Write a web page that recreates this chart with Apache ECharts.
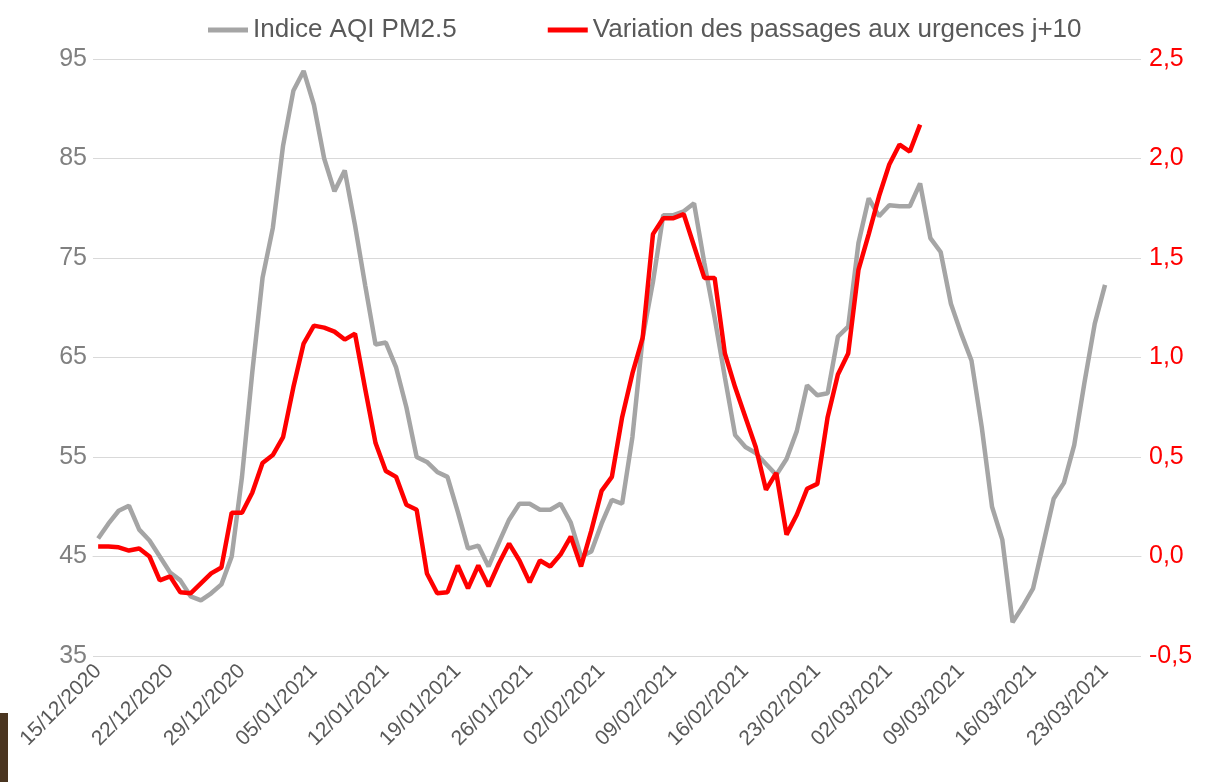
<!DOCTYPE html>
<html>
<head>
<meta charset="utf-8">
<script src="https://cdn.jsdelivr.net/npm/echarts@6/dist/echarts.min.js"></script>
<style>
  html, body { margin: 0; padding: 0; background: #ffffff; }
  #chart { width: 1219px; height: 782px; }
</style>
</head>
<body>
<div id="chart"></div>
<script>
// daily axis, 15/12/2020 -> 26/03/2021
var startDate = new Date(2020, 11, 15);
var dayCount = 102;

// Indice AQI PM2.5 (left axis), from 15/12/2020
var aqi = [
  46.8, 48.3, 49.6, 50.1, 47.7, 46.6, 45.0, 43.4, 42.6, 41.0,
  40.6, 41.3, 42.2, 45.0, 53.0, 63.5, 73.0, 78.0, 86.3, 91.8,
  93.8, 90.4, 85.0, 81.7, 83.8, 78.3, 72.2, 66.3, 66.5, 64.0,
  60.0, 55.0, 54.5, 53.5, 53.0, 49.5, 45.8, 46.1, 44.0, 46.4,
  48.7, 50.3, 50.3, 49.7, 49.7, 50.3, 48.4, 45.0, 45.5, 48.3,
  50.7, 50.3, 57.0, 67.0, 72.6, 79.3, 79.3, 79.7, 80.5, 74.5,
  69.0, 63.0, 57.2, 56.0, 55.4, 54.3, 53.2, 54.8, 57.6, 62.2,
  61.2, 61.4, 67.1, 68.1, 76.5, 81.0, 79.2, 80.3, 80.2, 80.2,
  82.5, 77.0, 75.6, 70.4, 67.4, 64.7, 58.0, 50.0, 46.7, 38.4,
  40.0, 41.8, 46.3, 50.8, 52.4, 56.2, 62.5, 68.4, 72.3
];

// Variation des passages aux urgences j+10 (right axis)
var urgences = [
  0.05, 0.05, 0.046, 0.03, 0.04, 0.0, -0.12, -0.10, -0.18, -0.185,
  -0.135, -0.085, -0.055, 0.22, 0.22, 0.32, 0.47, 0.51, 0.60, 0.85,
  1.07, 1.16, 1.15, 1.13, 1.09, 1.12, 0.84, 0.57, 0.43, 0.40,
  0.26, 0.235, -0.085, -0.185, -0.18, -0.045, -0.16, -0.045, -0.15, -0.035,
  0.065, -0.02, -0.13, -0.02, -0.05, 0.01, 0.10, -0.05, 0.13, 0.33,
  0.40, 0.70, 0.92, 1.10, 1.62, 1.70, 1.70, 1.72, 1.56, 1.40,
  1.40, 1.02, 0.85, 0.70, 0.55, 0.335, 0.42, 0.11, 0.21, 0.34,
  0.365, 0.70, 0.915, 1.02, 1.44, 1.62, 1.81, 1.97, 2.07, 2.035,
  2.17
];

var seriesNames = ['Indice AQI PM2.5', 'Variation des passages aux urgences j+10'];

function pad(n) { return n < 10 ? '0' + n : '' + n; }
var dates = [];
for (var i = 0; i < dayCount; i++) {
  var d = new Date(startDate.getFullYear(), startDate.getMonth(), startDate.getDate() + i);
  dates.push(pad(d.getDate()) + '/' + pad(d.getMonth() + 1) + '/' + d.getFullYear());
}

var font = "'Liberation Sans', Arial, sans-serif";
var gray = '#a5a5a5';
var red = '#ff0000';
var rule = '#d9d9d9';

var chart = echarts.init(document.getElementById('chart'), null, { renderer: 'canvas' });
chart.setOption({
  animation: false,
  backgroundColor: '#ffffff',
  textStyle: { fontFamily: font },
  legend: {
    top: 12,
    left: 203,
    itemWidth: 40,
    itemHeight: 5,
    itemGap: 91,
    icon: 'rect',
    textStyle: { color: '#595959', fontSize: 26, fontFamily: font },
    data: seriesNames
  },
  grid: { left: 93, right: 78, top: 59, bottom: 126 },
  xAxis: {
    type: 'category',
    data: dates,
    boundaryGap: true,
    axisLine: { lineStyle: { color: rule, width: 1 } },
    axisTick: { interval: 6, length: 6, lineStyle: { color: rule } },
    axisLabel: {
      interval: 6,
      rotate: 45,
      margin: 12,
      color: '#595959',
      fontSize: 21,
      fontFamily: font
    }
  },
  yAxis: [
    {
      type: 'value',
      min: 35, max: 95, interval: 10,
      axisLine: { show: false },
      axisTick: { show: false },
      splitLine: { lineStyle: { color: rule, width: 1 } },
      axisLabel: { color: '#808080', fontSize: 25, margin: 6, fontFamily: font }
    },
    {
      type: 'value',
      min: -0.5, max: 2.5, interval: 0.5,
      axisLine: { show: false },
      axisTick: { show: false },
      splitLine: { show: false },
      axisLabel: {
        color: red, fontSize: 25, margin: 8, fontFamily: font,
        formatter: function (v) { return v.toFixed(1).replace('.', ','); }
      }
    }
  ],
  series: [
    {
      name: seriesNames[0],
      type: 'line',
      yAxisIndex: 0,
      data: aqi,
      symbol: 'none',
      itemStyle: { color: gray },
      lineStyle: { color: gray, width: 4.5 }
    },
    {
      name: seriesNames[1],
      type: 'line',
      yAxisIndex: 1,
      data: urgences,
      symbol: 'none',
      itemStyle: { color: red },
      lineStyle: { color: red, width: 4.5 }
    }
  ],
  graphic: [
    { type: 'rect', left: 0, top: 713, shape: { width: 8, height: 69 }, style: { fill: '#4a3520' } }
  ]
});
window.addEventListener('resize', function () { chart.resize(); });
</script>
</body>
</html>
